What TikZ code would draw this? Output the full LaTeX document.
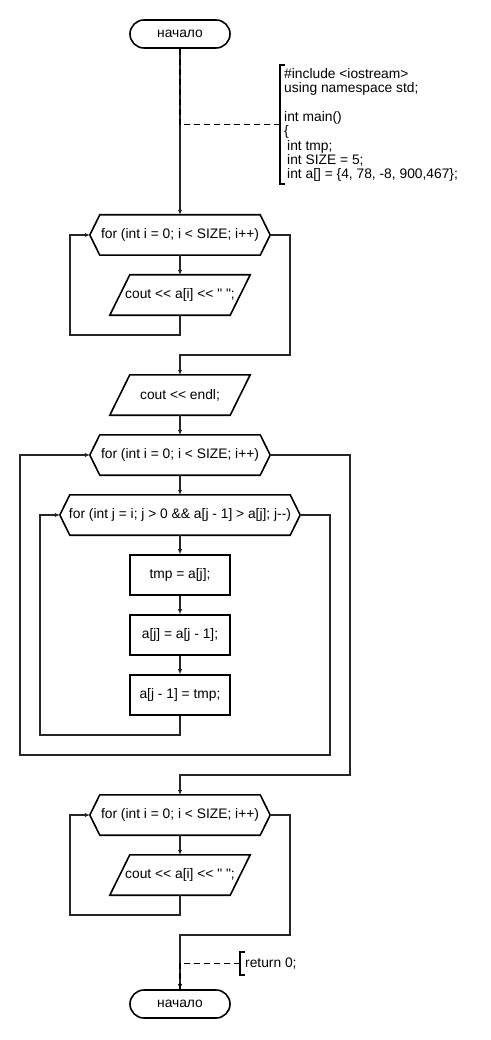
\documentclass[tikz,border=0pt]{standalone}
\usepackage{fontspec}
\setmainfont{Liberation Sans}[Ligatures=TeXOff]
\usetikzlibrary{arrows.meta,calc}

% outlines drawn around invisible rectangular nodes
\newcommand{\hexframe}[1]{%
  \draw[shapeline] ([xshift=10pt]#1.north west) -- ([xshift=-10pt]#1.north east)
    -- (#1.east) -- ([xshift=-10pt]#1.south east) -- ([xshift=10pt]#1.south west)
    -- (#1.west) -- cycle;}
\newcommand{\paraframe}[1]{%
  \draw[shapeline] ([xshift=20pt]#1.north west) -- (#1.north east)
    -- ([xshift=-20pt]#1.south east) -- (#1.south west) -- cycle;}
\newcommand{\bracketframe}[1]{%
  \draw[shapeline] ([xshift=5pt]#1.north west) -- (#1.north west)
    -- (#1.south west) -- ([xshift=5pt]#1.south west);}

\begin{document}
\begin{tikzpicture}[x=1pt,y=-1pt,
  every node/.style={font=\fontsize{13.8}{14.4}\selectfont, inner sep=0pt},
  shapeline/.style={line width=1.6pt, line join=miter},
  terminal/.style={draw, line width=1.6pt, rounded corners=14pt,
    minimum width=100pt, minimum height=28pt},
  loopbox/.style={minimum width=180pt, minimum height=40pt},
  widebox/.style={minimum width=240pt, minimum height=40pt},
  iobox/.style={minimum width=140pt, minimum height=40pt},
  procbox/.style={draw, line width=1.6pt, minimum width=100pt, minimum height=40pt},
  conn/.style={line width=1.3pt, draw=black!85, -{Latex[length=5pt,width=4.5pt]}},
  note/.style={line width=1.3pt, dash pattern=on 6pt off 4pt},
]
\useasboundingbox (0,0) rectangle (490,1040);

% blocks
\node[terminal] (start) at (180,34) {начало};
\node[loopbox] (h1) at (180,235) {for (int i = 0; i < SIZE; i++)};
\node[iobox] (p1) at (180,295) {cout << a[i] << " ";};
\node[iobox] (p2) at (180,395) {cout << endl;};
\node[loopbox] (h2) at (180,455) {for (int i = 0; i < SIZE; i++)};
\node[widebox] (h3) at (180,515) {for (int j = i; j > 0 \&\& a[j - 1] > a[j]; j--)};
\node[procbox] (r1) at (180,575) {tmp = a[j];};
\node[procbox] (r2) at (180,635) {a[j] = a[j - 1];};
\node[procbox] (r3) at (180,695) {a[j - 1] = tmp;};
\node[loopbox] (h4) at (180,815) {for (int i = 0; i < SIZE; i++)};
\node[iobox] (p3) at (180,875) {cout << a[i] << " ";};
\node[terminal] (stop) at (180,1004) {начало};

\hexframe{h1}
\hexframe{h2}
\hexframe{h3}
\hexframe{h4}
\paraframe{p1}
\paraframe{p2}
\paraframe{p3}

% flow
\draw[conn] (start) -- (h1);
\draw[conn] (h1) -- (p1);
\draw[conn] (p1.south) |- (70,335) |- (h1.west);
\draw[conn] (h1.east) -| (290,355) -| (p2.north);
\draw[conn] (p2) -- (h2);
\draw[conn] (h2) -- (h3);
\draw[conn] (h3) -- (r1);
\draw[conn] (r1) -- (r2);
\draw[conn] (r2) -- (r3);
\draw[conn] (r3.south) |- (40,735) |- (h3.west);
\draw[conn] (h3.east) -| (330,755) -- (20,755) |- (h2.west);
\draw[conn] (h2.east) -| (350,775) -| (h4.north);
\draw[conn] (h4) -- (p3);
\draw[conn] (p3.south) |- (70,915) |- (h4.west);
\draw[conn] (h4.east) -| (290,935) -| (stop.north);

% annotations
\node[minimum width=5pt, minimum height=119pt] (b1) at (282.5,124.5) {};
\bracketframe{b1}
\node[anchor=west, align=left] (code) at (284,125) {\#include <iostream>\\
using namespace std;\\
\strut\\
int main()\\
\{\\
\hspace*{3pt}int tmp;\\
\hspace*{3pt}int SIZE = 5;\\
\hspace*{3pt}int a[] = \{4, 78, -8, 900,467\};};
\node[minimum width=5pt, minimum height=23pt] (b2) at (242.5,963.5) {};
\bracketframe{b2}
\node[anchor=west] (ret) at (245,963.5) {return 0;};

\draw[note] (start.south) |- (b1.west);
\draw[note] (stop.north) |- (b2.west);
\end{tikzpicture}
\end{document}
